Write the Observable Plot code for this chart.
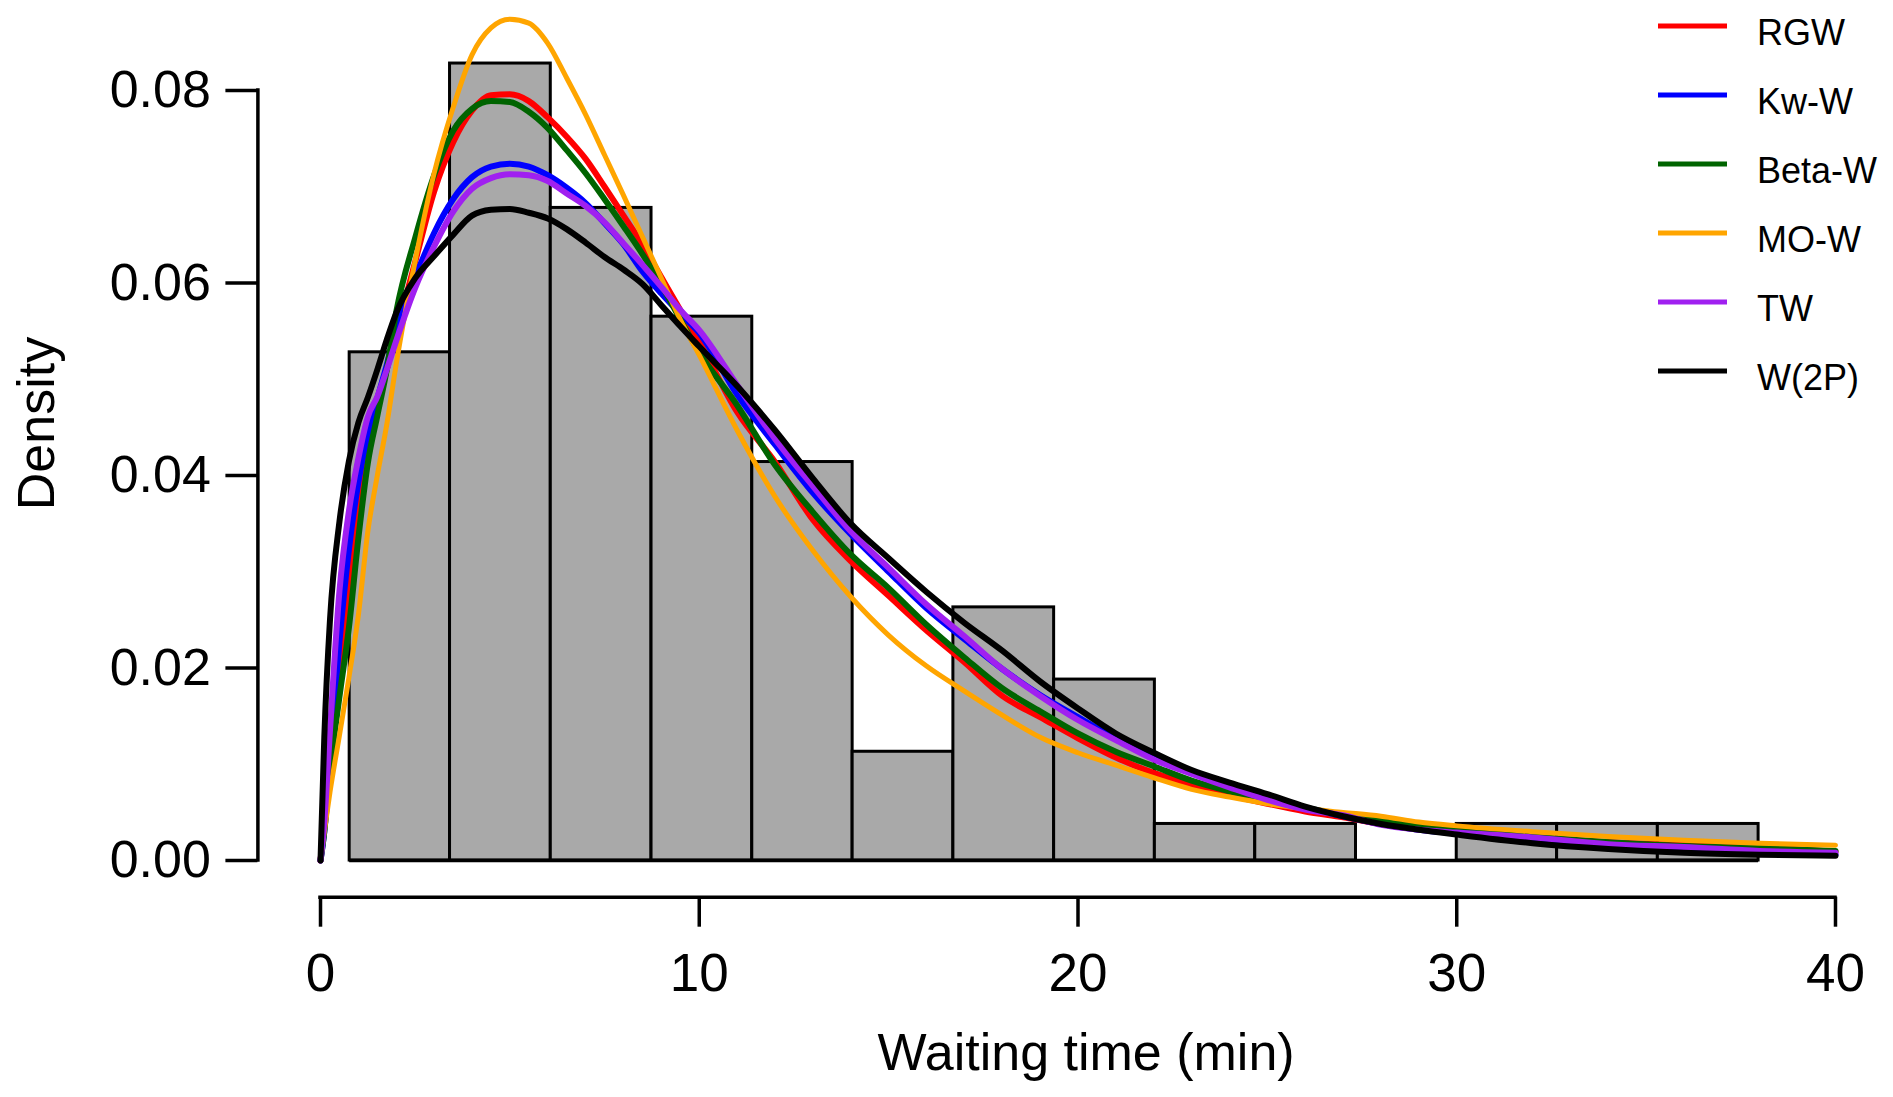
<!DOCTYPE html>
<html>
<head>
<meta charset="utf-8">
<script src="https://cdn.jsdelivr.net/npm/d3@7"></script>
<script src="https://cdn.jsdelivr.net/npm/@observablehq/plot@0.6"></script>
<style>
  html, body { margin: 0; padding: 0; background: #fff; }
  #chart svg { display: block; }
</style>
</head>
<body>
<div id="chart"></div>
<script>
// ---- Data ----
const binEdges = [0.77, 3.42, 6.08, 8.74, 11.40, 14.05, 16.71, 19.37, 22.03, 24.68, 27.34, 30.00, 32.65, 35.31, 37.97];
const binDensity = [0.0528, 0.0828, 0.0678, 0.0565, 0.0414, 0.0113, 0.0263, 0.0188, 0.0038, 0.0038, 0, 0.0038, 0.0038, 0.0038];

const xs = [0, 0.1, 0.25, 0.5, 0.75, 1, 1.25, 1.5, 1.75, 2, 2.5, 3, 3.5, 4, 4.5, 5, 5.5, 6, 6.5, 7, 7.5, 8, 8.5, 9, 9.5, 10,
  11, 12, 13, 14, 15, 16, 17, 18, 19, 20, 21, 22, 23, 24, 25, 26, 27, 28, 29, 30, 32, 34, 36, 38, 40];

const rgw = [0, 0.004, 0.0125, 0.020, 0.0285, 0.037, 0.0425, 0.047, 0.051, 0.0548, 0.0622, 0.0695, 0.0746, 0.0779, 0.0795, 0.0796, 0.0789, 0.0772, 0.0752, 0.0729, 0.0700, 0.0670, 0.0640, 0.0606, 0.0572, 0.0539,
  0.0466, 0.0414, 0.0354, 0.0311, 0.0275, 0.0239, 0.0206, 0.0171, 0.0149, 0.0127, 0.0107, 0.0091, 0.0079, 0.0068, 0.0059, 0.0051, 0.0045, 0.0038, 0.0033, 0.0030, 0.0024, 0.0019, 0.0016, 0.0014, 0.0009];

const kww = [0, 0.003, 0.0105, 0.0227, 0.0323, 0.0393, 0.0442, 0.048, 0.0515, 0.0554, 0.0606, 0.0652, 0.0687, 0.0710, 0.0721, 0.0724, 0.0721, 0.0712, 0.0699, 0.0683, 0.0662, 0.0640, 0.0612, 0.0589, 0.0568, 0.0548,
  0.0484, 0.0432, 0.0382, 0.0339, 0.0300, 0.0262, 0.0230, 0.0199, 0.0172, 0.0149, 0.0127, 0.0108, 0.0092, 0.0078, 0.0065, 0.0055, 0.0046, 0.0038, 0.0032, 0.0028, 0.0020, 0.0014, 0.0010, 0.0008, 0.0006];

const betaw = [0, 0.003, 0.0092, 0.0170, 0.0242, 0.0335, 0.0413, 0.0462, 0.0510, 0.0570, 0.0647, 0.0712, 0.0758, 0.0781, 0.0789, 0.0788, 0.0778, 0.0761, 0.0738, 0.0714, 0.0687, 0.0659, 0.0630, 0.0598, 0.0562, 0.0528,
  0.0473, 0.0411, 0.0362, 0.0318, 0.0283, 0.0245, 0.0211, 0.0179, 0.0155, 0.0132, 0.0113, 0.0098, 0.0083, 0.0072, 0.0063, 0.0055, 0.0047, 0.0041, 0.0036, 0.0032, 0.0025, 0.0019, 0.0015, 0.0013, 0.0010];

const mow = [0, 0.003, 0.0071, 0.0130, 0.0190, 0.0255, 0.0342, 0.0400, 0.0453, 0.0516, 0.0623, 0.0714, 0.0782, 0.0837, 0.0865, 0.0874, 0.0870, 0.0849, 0.0813, 0.0775, 0.0733, 0.0691, 0.0648, 0.0605, 0.0562, 0.0525,
  0.0447, 0.0378, 0.0322, 0.0274, 0.0234, 0.0202, 0.0176, 0.0151, 0.0128, 0.0112, 0.0099, 0.0086, 0.0074, 0.0066, 0.0059, 0.0054, 0.0050, 0.0046, 0.0040, 0.0036, 0.0030, 0.0025, 0.0021, 0.0018, 0.0016];

const tw = [0, 0.004, 0.0135, 0.0280, 0.0363, 0.0418, 0.0461, 0.0482, 0.0510, 0.0540, 0.0595, 0.0638, 0.0674, 0.0698, 0.0709, 0.0713, 0.0712, 0.0706, 0.0693, 0.0680, 0.0663, 0.0641, 0.0619, 0.0596, 0.0572, 0.0551,
  0.0494, 0.0438, 0.0389, 0.0342, 0.0304, 0.0266, 0.0233, 0.0199, 0.0171, 0.0146, 0.0125, 0.0105, 0.0090, 0.0076, 0.0063, 0.0053, 0.0047, 0.0037, 0.0032, 0.0029, 0.0024, 0.0017, 0.0014, 0.0010, 0.0008];

const w2p = [0, 0.0128, 0.0250, 0.0352, 0.0415, 0.0455, 0.0481, 0.0510, 0.0541, 0.0569, 0.0605, 0.0628, 0.0650, 0.0670, 0.0676, 0.0677, 0.0673, 0.0667, 0.0656, 0.0642, 0.0627, 0.0614, 0.0599, 0.0577, 0.0555, 0.0534,
  0.0493, 0.0447, 0.0397, 0.0350, 0.0314, 0.0279, 0.0247, 0.0218, 0.0186, 0.0158, 0.0132, 0.0112, 0.0094, 0.0081, 0.0069, 0.0056, 0.0046, 0.0038, 0.0032, 0.0027, 0.0018, 0.0012, 0.0008, 0.0006, 0.0005];

const seriesNames = ["RGW", "Kw-W", "Beta-W", "MO-W", "TW", "W(2P)"];
const seriesValues = [rgw, kww, betaw, mow, tw, w2p];
const seriesColors = ["#ff0000", "#0000ff", "#006400", "#ffa500", "#a020f0", "#000000"];

const xTicks = [0, 10, 20, 30, 40];
const yTicks = [0, 0.02, 0.04, 0.06, 0.08];

// ---- Layout ----
const W = 1893, H = 1097;
const xDomain = [-1.653, 41.5];
const yDomain = [-0.00381, 0.08831];
const FONT = "'Liberation Sans', Arial, Helvetica, sans-serif";

const bins = binDensity.map((d, i) => ({x1: binEdges[i], x2: binEdges[i + 1], y: d}));

const curveMarks = seriesValues.map((vals, k) =>
  Plot.line(xs.map((x, i) => ({x, y: vals[i]})), {
    x: "x", y: "y",
    stroke: seriesColors[k],
    strokeWidth: k === 3 ? 5 : 6,
    curve: "monotone-x",
    strokeLinejoin: "round",
    strokeLinecap: "round"
  })
);

const chart = Plot.plot({
  width: W,
  height: H,
  marginLeft: 257.4,
  marginRight: 1.2,
  marginTop: 10,
  marginBottom: 200.3,
  x: {domain: xDomain},
  y: {domain: yDomain},
  style: {fontFamily: FONT, color: "black", background: "white", overflow: "visible"},
  marks: [
    Plot.rectY(bins, {x1: "x1", x2: "x2", y1: 0, y2: "y", fill: "#a9a9a9", stroke: "black", strokeWidth: 3, inset: 0}),
    Plot.ruleY([0], {x1: binEdges[0], x2: binEdges[binEdges.length - 1], stroke: "black", strokeWidth: 3.5}),
    ...curveMarks,
    // axes
    Plot.ruleX([xDomain[0]], {y1: yTicks[0], y2: yTicks[yTicks.length - 1], stroke: "black", strokeWidth: 3.5, strokeLinecap: "square"}),
    Plot.axisY(yTicks, {anchor: "left", tickSize: 32, tickPadding: 15, tickFormat: d3.format(".2f"), fontSize: 52, strokeWidth: 3.5, label: null}),
    Plot.ruleY([yDomain[0]], {x1: xTicks[0], x2: xTicks[xTicks.length - 1], stroke: "black", strokeWidth: 3.5, strokeLinecap: "square"}),
    Plot.axisX(xTicks, {anchor: "bottom", tickSize: 30, tickPadding: 26, tickFormat: d3.format("d"), fontSize: 53, strokeWidth: 3.5, label: null}),
    // axis titles
    Plot.text(["Density"], {frameAnchor: "left", dx: 37 - 257.4, dy: 423 - 453.35, rotate: -90, fontSize: 52, textAnchor: "middle", lineAnchor: "middle"}),
    Plot.text(["Waiting time (min)"], {frameAnchor: "bottom", dx: 11, dy: 156, fontSize: 52, textAnchor: "middle", lineAnchor: "middle"})
  ]
});

document.getElementById("chart").appendChild(chart);

// ---- Legend (top right) ----
const svg = d3.select(chart);
const lg = svg.append("g")
  .attr("font-family", FONT)
  .attr("font-size", 36)
  .attr("fill", "black")
  .attr("text-anchor", "start");
seriesNames.forEach((name, i) => {
  const cy = 26 + 69 * i;
  lg.append("line")
    .attr("x1", 1658).attr("x2", 1727)
    .attr("y1", cy).attr("y2", cy)
    .attr("stroke", seriesColors[i]).attr("stroke-width", 5);
  lg.append("text")
    .attr("x", 1757).attr("y", cy + 19)
    .attr("text-anchor", "start")
    .text(name);
});
</script>
</body>
</html>
